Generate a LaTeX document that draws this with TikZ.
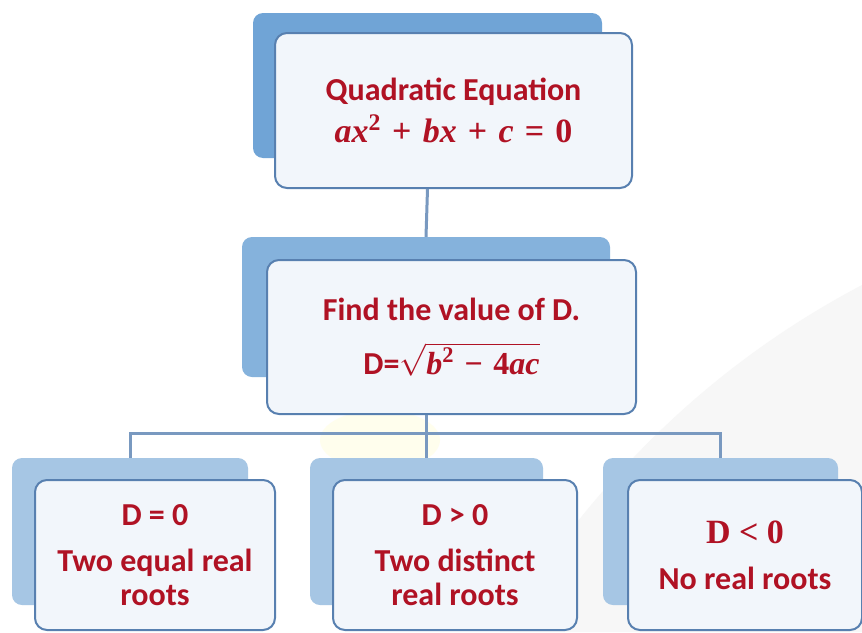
\RequirePackage{fix-cm}
\documentclass[tikz,border=0pt]{standalone}
\usepackage{fontspec}
\usepackage{amsmath}
\setmainfont{Carlito}
\newfontfamily\serifbold{Liberation Serif}
\newcommand\mvar[1]{{\serifbold\bfseries\itshape #1}}
\newcommand\mop[1]{{\serifbold\bfseries\upshape\hspace{0.33em}#1\hspace{0.33em}}}
\definecolor{backblue}{RGB}{112,164,214}
\definecolor{backpale}{RGB}{166,198,228}
\definecolor{edgeblue}{RGB}{88,128,176}
\definecolor{frontfill}{RGB}{242,246,251}
\definecolor{textred}{RGB}{176,18,36}
\begin{document}
\begin{tikzpicture}[x=1pt, y=-1pt,
    back/.style={rounded corners=10pt, fill=#1, minimum height=145pt, inner sep=0pt},
    front/.style={rounded corners=12pt, draw=edgeblue, line width=2pt, fill=frontfill,
        minimum height=152pt, inner sep=0pt, align=center, text=textred,
        font=\fontsize{32}{34}\selectfont\bfseries},
    link/.style={draw=edgeblue!80, line width=3pt}]
    \useasboundingbox (0,0) rectangle (862,632);
    \fill[white] (0,0) rectangle (862,632);
    % background swoosh
    \fill[gray!6] (500,632) .. controls (600,470) and (720,360) .. (862,285) -- (862,632) -- cycle;
    \fill[yellow!7] (380,440) ellipse (60 and 30);

    \node[back=backblue, minimum width=349pt] (qback) at (427.5,85.5) {};
    \node[front, minimum width=357pt, minimum height=155pt] (quad) at (453.5,110.5)
        {Quadratic Equation\\[8pt] {\fontsize{34}{34}\selectfont\mvar{ax}\textsuperscript{\mvar{\upshape 2}}\mop{+}\mvar{bx}\mop{+}\mvar{c}\mop{=}\mvar{\upshape 0}}};

    \node[back=backblue!85, minimum width=368pt, minimum height=140pt] (dback) at (426,307) {};
    \node[front, minimum width=369pt, minimum height=154pt] (disc) at (451.5,337)
        {Find the value of D.\\[20pt] D=$\sqrt{\hbox{\mvar{b}\textsuperscript{\mvar{\upshape 2}}\mop{−}\mvar{\upshape 4}\mvar{ac}}}$};

    \node[back=backpale, minimum width=236pt, minimum height=147pt] (eqback) at (130,531.5) {};
    \node[front, minimum width=240pt, minimum height=150pt] (eq) at (155,555)
        {D = 0\\[12pt]Two equal real\\roots};

    \node[back=backpale, minimum width=233pt, minimum height=147pt] (gtback) at (426.5,531.5) {};
    \node[front, minimum width=244pt, minimum height=150pt] (gt) at (455,555)
        {D {\textgreater} 0\\[12pt]Two distinct\\real roots};

    \node[back=backpale, minimum width=235pt, minimum height=147pt] (ltback) at (720.5,531.5) {};
    \node[front, minimum width=234pt, minimum height=150pt] (lt) at (745,555)
        {{\serifbold\fontsize{34}{34}\selectfont D {\textless} 0}\\[12pt]No real roots};

    \coordinate (bus) at (426,433);
    \draw[link] (qback.center |- quad.south) -- (dback.north);
    \draw[link] (dback.center |- disc.south) -- (bus);
    \draw[link] (eqback.north) |- (bus) -| (ltback.north);
    \draw[link] (gtback.north) -- (gtback.north |- bus);
\end{tikzpicture}
\end{document}
